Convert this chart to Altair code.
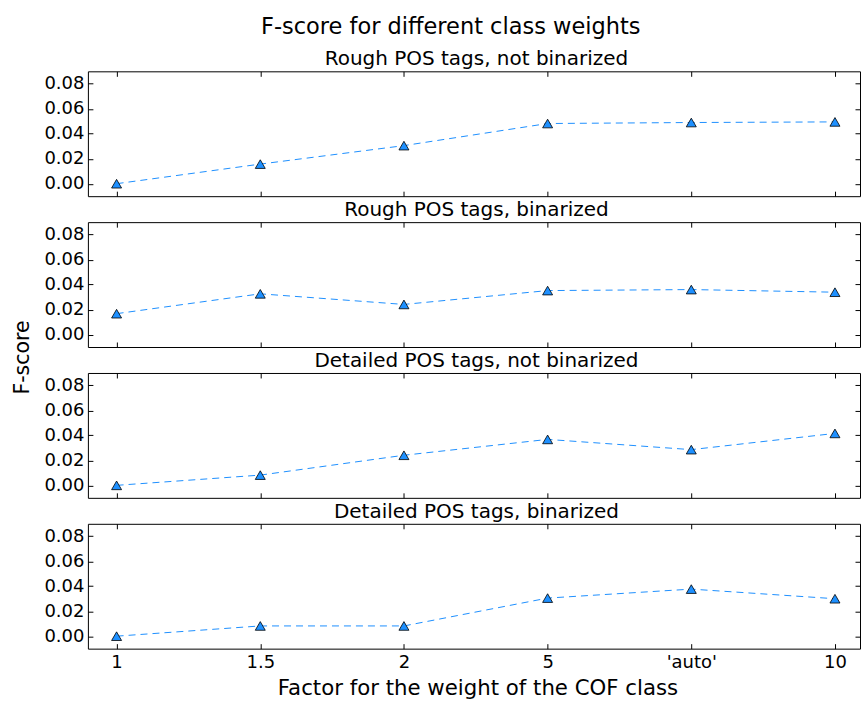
import altair as alt
import pandas as pd

# Class-weight factors on the x axis (categorical, in plotting order)
weights = ["1", "1.5", "2", "5", "'auto'", "10"]

# Panel titles, top to bottom
panels = [
    "Rough POS tags, not binarized",
    "Rough POS tags, binarized",
    "Detailed POS tags, not binarized",
    "Detailed POS tags, binarized",
]

# F-scores per panel, one value per weight factor
rough_not_bin = [0.000, 0.0157, 0.0305, 0.0482, 0.0490, 0.0495]
rough_bin = [0.0167, 0.0326, 0.0241, 0.0352, 0.0360, 0.0339]
detailed_not_bin = [0.000, 0.0082, 0.0241, 0.0368, 0.0286, 0.0416]
detailed_bin = [0.000, 0.0082, 0.0082, 0.0305, 0.0377, 0.0300]

y_ticks = [0.00, 0.02, 0.04, 0.06, 0.08]

series = [rough_not_bin, rough_bin, detailed_not_bin, detailed_bin]
rows = []
for name, vals in zip(panels, series):
    for w, v in zip(weights, vals):
        rows.append({"panel": name, "weight": w, "fscore": v})
df = pd.DataFrame(rows)

FONT = "DejaVu Sans"
BLUE = "#1E90FF"
W, H = 773, 125
TICK = 5

x_scale = alt.Scale(type="point", domain=weights, padding=0.187, align=0.534)
y_scale = alt.Scale(domain=[-0.01, 0.09], nice=False, zero=False)


def tick_axis(orient, values=None):
    # tick-only axis pulled inside the frame so the ticks point inward
    kw = dict(
        orient=orient, labels=False, domain=False, grid=False,
        ticks=True, tickSize=TICK, offset=-TICK, tickColor="black",
        tickWidth=1, title=None, minExtent=0, maxExtent=0,
    )
    if values is not None:
        kw["values"] = values
    return alt.Axis(**kw)


def make_panel(i, name):
    base = alt.Chart(df).transform_filter(alt.datum.panel == name)
    last = i == len(panels) - 1

    x_axis_kw = dict(
        orient="bottom", ticks=False, tickSize=0, domain=False, grid=False,
        labels=last, labelFontSize=18, labelFont=FONT, labelColor="black",
        labelPadding=5, labelAngle=0, title=None, minExtent=0,
    )
    if last:
        x_axis_kw.update(
            title="Factor for the weight of the COF class",
            titleFont=FONT, titleFontSize=21.3, titleColor="black",
            titleFontWeight="normal", titleBaseline="alphabetic",
            titleX=390, titleY=46, titleAlign="center",
        )
    y_axis_kw = dict(
        orient="left", ticks=False, tickSize=0, domain=False, grid=False,
        values=y_ticks, format=".2f", labelFontSize=18, labelFont=FONT,
        labelColor="black", labelPadding=4, title=None, minExtent=0,
    )
    if i == 1:
        y_axis_kw.update(
            title="F-score", titleFont=FONT, titleFontSize=20.5,
            titleColor="black", titleFontWeight="normal", titleAngle=270,
            titleAlign="center", titleBaseline="middle",
            titleX=-65, titleY=135,
        )

    line = base.mark_line(
        color=BLUE, strokeWidth=1, strokeDash=[7, 5]
    ).encode(
        x=alt.X("weight:N", sort=weights, scale=x_scale, axis=alt.Axis(**x_axis_kw)),
        y=alt.Y("fscore:Q", scale=y_scale, axis=alt.Axis(**y_axis_kw)),
    )
    ticks_in = base.mark_point(opacity=0).encode(
        x=alt.X("weight:N", sort=weights, scale=x_scale, axis=tick_axis("bottom")),
        y=alt.Y("fscore:Q", scale=y_scale, axis=tick_axis("left", y_ticks)),
    )
    ticks_out = base.mark_point(opacity=0).encode(
        x=alt.X("weight:N", sort=weights, scale=x_scale, axis=tick_axis("top")),
        y=alt.Y("fscore:Q", scale=y_scale, axis=tick_axis("right", y_ticks)),
    )
    pts = base.mark_point(
        shape="triangle-up", filled=True, size=100, fill=BLUE,
        stroke="black", strokeWidth=0.8, opacity=1,
    ).encode(
        x=alt.X("weight:N", sort=weights, scale=x_scale, axis=None),
        y=alt.Y("fscore:Q", scale=y_scale, axis=None),
    )
    return alt.layer(line, ticks_in, ticks_out, pts).resolve_axis(
        x="independent", y="independent"
    ).properties(
        width=W, height=H,
        title=alt.TitleParams(
            name, font=FONT, fontSize=20, fontWeight="normal", color="black",
            anchor="middle", baseline="bottom", offset=1.5, dy=20, dx=2.5,
        ),
    )


chart = alt.vconcat(
    *[make_panel(i, n) for i, n in enumerate(panels)],
    spacing=26, bounds="flush",
).properties(
    title=alt.TitleParams(
        "F-score for different class weights", font=FONT, fontSize=22.5,
        fontWeight="normal", color="black", anchor="middle",
        baseline="bottom", offset=10, dy=22.3, dx=14,
    ),
    padding={"left": 12, "top": 15, "right": 0, "bottom": 5},
    background="white",
).configure_view(
    stroke="black", strokeWidth=1
)

chart.save("out.html", embed_options={"renderer": "svg", "actions": False})
